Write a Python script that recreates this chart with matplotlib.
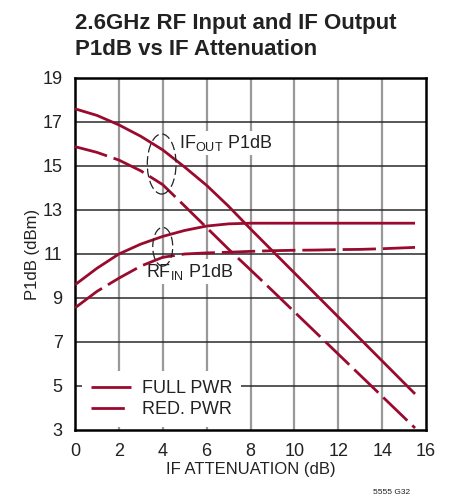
import matplotlib
matplotlib.use("Agg")
import matplotlib.pyplot as plt
from matplotlib.patches import Ellipse
from matplotlib import font_manager

names = {f.name for f in font_manager.fontManager.ttflist}
FONT = ['Liberation Sans Narrow', 'DejaVu Sans'] if 'Liberation Sans Narrow' in names else ['Liberation Sans', 'DejaVu Sans']
plt.rcParams['font.family'] = FONT

# ---- data ----
x = [0, 1, 2, 3, 4, 5, 6, 7, 8, 9, 10, 11, 12, 13, 14, 15, 15.5]
if_out_full = [17.6, 17.3, 16.87, 16.35, 15.73, 14.95, 14.12, 13.17, 12.14, 11.14, 10.14, 9.14, 8.14, 7.14, 6.14, 5.14, 4.64]
if_out_red = [15.88, 15.62, 15.27, 14.78, 14.15, 13.18, 12.2, 11.22, 10.28, 9.33, 8.37, 7.41, 6.45, 5.49, 4.53, 3.57, 3.09]
rf_in_full = [9.6, 10.35, 11.0, 11.45, 11.8, 12.07, 12.27, 12.37, 12.4, 12.4, 12.4, 12.4, 12.4, 12.4, 12.4, 12.4, 12.4]
rf_in_red = [8.55, 9.3, 9.9, 10.45, 10.85, 11.0, 11.05, 11.08, 11.12, 11.15, 11.17, 11.18, 11.2, 11.21, 11.24, 11.28, 11.3]

xticks = [0, 2, 4, 6, 8, 10, 12, 14, 16]
yticks = [3, 5, 7, 9, 11, 13, 15, 17, 19]

title_lines = ["2.6GHz RF Input and IF Output", "P1dB vs IF Attenuation"]
xlabel = "IF ATTENUATION (dB)"
ylabel = "P1dB (dBm)"
labels = ["FULL PWR", "RED. PWR"]

RED = '#9a0a2e'
TXT = '#222222'
DASH = (0, (12, 2.5))

W, H = 458, 497
fig = plt.figure(figsize=(W / 100, H / 100), dpi=100)
ax = fig.add_axes([75 / W, 67 / H, 351 / W, 352 / H])

ax.set_xlim(0, 16)
ax.set_ylim(3, 19)
ax.set_xticks(xticks)
ax.set_yticks(yticks)
ax.tick_params(length=0, labelsize=13, colors=TXT)
ax.tick_params(axis='x', pad=9)
ax.tick_params(axis='y', pad=9)
for s in ax.spines.values():
    s.set_linewidth(1.8)
    s.set_color('black')

for t in xticks[1:-1]:
    ax.axvline(t, color='#999999', lw=1.6, zorder=1)
for t in yticks[1:-1]:
    ax.axhline(t, color='#2a2a2a', lw=1.1, zorder=1)

lw = 2.0
l1, = ax.plot(x, if_out_full, color=RED, lw=lw, zorder=3, solid_capstyle='butt')
l2, = ax.plot(x, if_out_red, color=RED, lw=lw, ls=DASH, zorder=3, dash_capstyle='butt')
ax.plot(x, rf_in_full, color=RED, lw=lw, zorder=3, solid_capstyle='butt')
ax.plot(x, rf_in_red, color=RED, lw=lw, ls=DASH, zorder=3, dash_capstyle='butt')

ax.add_patch(Ellipse((3.95, 15.09), 1.31, 2.73, fill=False, ec=TXT, lw=0.9, ls=(0, (7, 3)), zorder=4))
ax.add_patch(Ellipse((4.0, 11.33), 0.91, 1.76, fill=False, ec=TXT, lw=0.9, ls=(0, (7, 3)), zorder=4))

bb = dict(facecolor='white', edgecolor='none', pad=1.5)
ax.text(4.75, 16.05, r'IF$_{\mathregular{OUT}}$ P1dB', fontsize=13, color=TXT, va='center', ha='left', zorder=2, bbox=bb)
ax.text(3.25, 10.2, r'RF$_{\mathregular{IN}}$ P1dB', fontsize=13, color=TXT, va='center', ha='left', zorder=2, bbox=bb)

leg = ax.legend([l1, l2], labels, loc='lower left', bbox_to_anchor=(7 / 351, 3 / 352), fontsize=13,
                frameon=True, fancybox=False, framealpha=1, facecolor='white', edgecolor='none',
                handlelength=2.2, handletextpad=0.6, labelspacing=0.22, borderpad=0.5, borderaxespad=0)
for t in leg.get_texts():
    t.set_color(TXT)
leg.set_zorder(5)

ax.set_xlabel(xlabel, fontsize=12, color=TXT, labelpad=2)
ax.set_ylabel(ylabel, fontsize=12, color=TXT, labelpad=2)

fig.text(75 / W, 1 - 29 / H, title_lines[0], fontsize=16, fontweight='bold', color=TXT, ha='left', va='baseline')
fig.text(75 / W, 1 - 55 / H, title_lines[1], fontsize=16, fontweight='bold', color=TXT, ha='left', va='baseline')
fig.text(410 / W, 1 - 492 / H, "5555 G32", fontsize=6, color=TXT, ha='right', va='center')

fig.savefig('out.png', dpi=100)
